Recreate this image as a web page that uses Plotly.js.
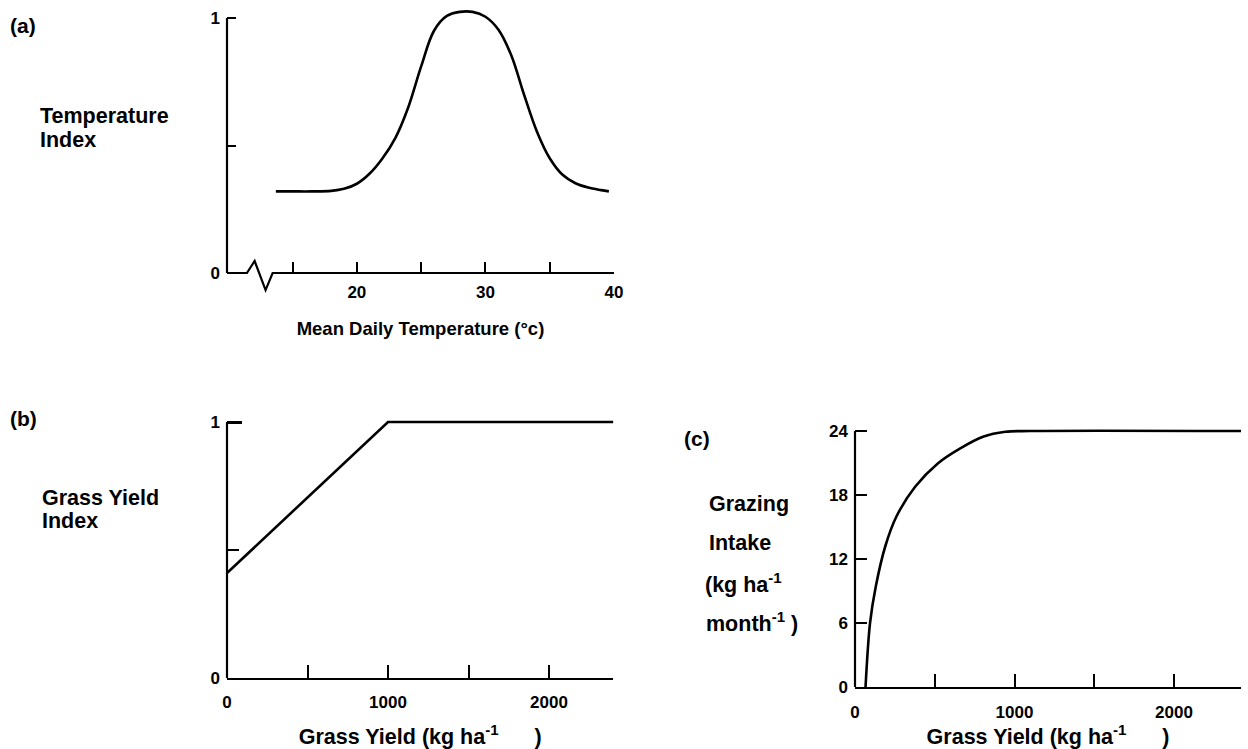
<!DOCTYPE html>
<html>
<head>
<meta charset="utf-8">
<script src="https://cdn.plot.ly/plotly-3.0.1.min.js"></script>
<style>
  html, body { margin: 0; padding: 0; background: #fff; }
  #chart { width: 1248px; height: 749px; }
</style>
</head>
<body>
<div id="chart"></div>
<script>
// ---------------- DATA ----------------
// (a) Temperature index vs mean daily temperature
const tempX = [13.7, 15, 16.5, 18, 19, 20, 21, 22, 23, 24, 25, 26, 27, 28, 29, 30, 31, 32, 33, 34, 35, 36, 37, 38, 39, 39.6];
const tempIndex = [0.32, 0.32, 0.32, 0.322, 0.33, 0.35, 0.39, 0.45, 0.53, 0.65, 0.81, 0.95, 1.008, 1.024, 1.024, 1.005, 0.955, 0.855, 0.70, 0.555, 0.45, 0.385, 0.352, 0.335, 0.325, 0.32];
const tempTickVals = [20, 30, 40];
const tempTickText = ['20', '30', '40'];
const tempMinorTicks = [15, 25, 35];
const tempIdxTickVals = [0, 1];
const tempIdxTickText = ['0', '1'];
const tempIdxMinorTicks = [0.5];

// (b) Grass yield index vs grass yield
const yieldX = [0, 1000, 2400];
const yieldIndex = [0.41, 1.0, 1.0];
const yieldTickVals = [0, 1000, 2000];
const yieldTickText = ['0', '1000', '2000'];
const yieldMinorTicks = [500, 1500];
const yieldIdxTickVals = [0, 1];
const yieldIdxTickText = ['0', '1'];
const yieldIdxMinorTicks = [0.5];

// (c) Grazing intake vs grass yield
const grazeX = [66, 94, 130, 189, 259, 377, 519, 660, 802, 943, 1100, 2420];
const grazeIntake = [0, 5.97, 9.4, 13.15, 15.96, 18.77, 20.96, 22.37, 23.46, 23.93, 24, 24];
const grazeTickVals = [0, 1000, 2000];
const grazeTickText = ['0', '1000', '2000'];
const grazeMinorTicks = [500, 1500];
const intakeTickVals = [0, 6, 12, 18, 24];
const intakeTickText = ['0', '6', '12', '18', '24'];

// ---------------- LAYOUT HELPERS ----------------
const W = 1248, H = 749;
const FONT = 'Liberation Sans, Arial, Helvetica, sans-serif';
const INK = '#000';

// plot boxes in pixels
const boxA = {l: 227, r: 614, t: 7.8, b: 273, xr: [9.9, 40], yr: [0, 1.04]};
const boxB = {l: 227, r: 613.4, t: 416.9, b: 678, xr: [0, 2400], yr: [0, 1.02]};
const boxC = {l: 855, r: 1241, t: 425.7, b: 687, xr: [0, 2420], yr: [0, 24.5]};

function dx(box) { return [box.l / W, box.r / W]; }
function dy(box) { return [1 - box.b / H, 1 - box.t / H]; }
function px(box, v) { const d = dx(box); return d[0] + (v - box.xr[0]) / (box.xr[1] - box.xr[0]) * (d[1] - d[0]); }
function py(box, v) { const d = dy(box); return d[0] + (v - box.yr[0]) / (box.yr[1] - box.yr[0]) * (d[1] - d[0]); }

function bold(size) { return {family: FONT, size: size, color: INK, weight: 'bold'}; }

function ann(text, xpix, ypix, size) {
  return {text: text, xref: 'paper', yref: 'paper', x: xpix / W, y: 1 - ypix / H,
          xanchor: 'left', yanchor: 'middle', showarrow: false, align: 'left',
          font: bold(size)};
}
function minor(vals, len) {
  return {tickmode: 'array', tickvals: vals, ticks: 'inside', ticklen: len, tickwidth: 2, tickcolor: INK, showgrid: false};
}

// ---------------- TRACES ----------------
const traces = [
  {x: tempX, y: tempIndex, xaxis: 'x', yaxis: 'y', type: 'scatter', mode: 'lines',
   line: {color: INK, width: 2.6, shape: 'spline', smoothing: 1}, hoverinfo: 'x+y', showlegend: false},
  {x: yieldX, y: yieldIndex, xaxis: 'x2', yaxis: 'y2', type: 'scatter', mode: 'lines',
   line: {color: INK, width: 2.6}, hoverinfo: 'x+y', showlegend: false},
  {x: grazeX, y: grazeIntake, xaxis: 'x3', yaxis: 'y3', type: 'scatter', mode: 'lines',
   line: {color: INK, width: 2.6, shape: 'spline', smoothing: 0.9}, hoverinfo: 'x+y', showlegend: false}
];

// ---------------- AXIS LINES (decoration) ----------------
function pathFrom(box, pts) {
  return pts.map((p, i) => (i ? 'L' : 'M') + px(box, p[0]) + ',' + py(box, p[1])).join(' ');
}
const lineStyle = {color: INK, width: 2.2};
const shapes = [
  {type: 'path', xref: 'paper', yref: 'paper', line: lineStyle,
   path: pathFrom(boxA, [[9.9, 0], [9.9, 1]])},
  {type: 'path', xref: 'paper', yref: 'paper', line: lineStyle,
   path: pathFrom(boxA, [[9.9, 0], [11.45, 0], [12.05, 0.047], [12.9, -0.067], [13.45, 0], [40, 0]])},
  {type: 'path', xref: 'paper', yref: 'paper', line: lineStyle,
   path: pathFrom(boxB, [[0, 0], [0, 1]])},
  {type: 'path', xref: 'paper', yref: 'paper', line: lineStyle,
   path: pathFrom(boxC, [[0, 0], [0, 24]])}
];

// ---------------- LAYOUT ----------------
const common = {showgrid: false, zeroline: false, fixedrange: true, ticks: 'inside',
                tickcolor: INK, tickwidth: 2, tickmode: 'array'};
const gapText = '\u00a0\u00a0\u00a0\u00a0\u00a0\u00a0';

const layout = {
  width: W, height: H,
  margin: {l: 0, r: 0, t: 0, b: 0},
  paper_bgcolor: '#fff', plot_bgcolor: 'rgba(0,0,0,0)',
  showlegend: false,
  xaxis: Object.assign({}, common, {
    domain: dx(boxA), range: boxA.xr, anchor: 'y', showline: false,
    tickvals: tempTickVals, ticktext: tempTickText, ticklen: 11,
    minor: minor(tempMinorTicks, 11),
    tickfont: bold(17), ticklabelstandoff: 7,
    title: {text: 'Mean Daily Temperature (°c)', font: bold(18.5), standoff: 21}
  }),
  yaxis: Object.assign({}, common, {
    domain: dy(boxA), range: boxA.yr, anchor: 'x', showline: false,
    tickvals: tempIdxTickVals, ticktext: tempIdxTickText, ticklen: 9,
    minor: minor(tempIdxMinorTicks, 9),
    tickfont: bold(17), ticklabelstandoff: 6
  }),
  xaxis2: Object.assign({}, common, {
    domain: dx(boxB), range: boxB.xr, anchor: 'y2', showline: true, linecolor: INK, linewidth: 2.2,
    tickvals: yieldTickVals, ticktext: yieldTickText, ticklen: 13,
    minor: minor(yieldMinorTicks, 13),
    tickfont: bold(17), ticklabelstandoff: 7,
    title: {text: 'Grass Yield (kg ha<sup>-1</sup>' + gapText + ')', font: bold(21.5), standoff: 19}
  }),
  yaxis2: Object.assign({}, common, {
    domain: dy(boxB), range: boxB.yr, anchor: 'x2', showline: false,
    tickvals: yieldIdxTickVals, ticktext: yieldIdxTickText, ticklen: 15, tickwidth: 3,
    minor: {tickmode: 'array', tickvals: yieldIdxMinorTicks, ticks: 'inside', ticklen: 12, tickwidth: 2.5, tickcolor: INK, showgrid: false},
    tickfont: bold(17), ticklabelstandoff: 6
  }),
  xaxis3: Object.assign({}, common, {
    domain: dx(boxC), range: boxC.xr, anchor: 'y3', showline: true, linecolor: INK, linewidth: 2.2,
    tickvals: grazeTickVals, ticktext: grazeTickText, ticklen: 13,
    minor: minor(grazeMinorTicks, 13),
    tickfont: bold(17), ticklabelstandoff: 8,
    title: {text: 'Grass Yield (kg ha<sup>-1</sup>' + gapText + ')', font: bold(21.5), standoff: 13}
  }),
  yaxis3: Object.assign({}, common, {
    domain: dy(boxC), range: boxC.yr, anchor: 'x3', showline: false,
    tickvals: intakeTickVals, ticktext: intakeTickText, ticklen: 12,
    tickfont: bold(17), ticklabelstandoff: 6
  }),
  shapes: shapes,
  annotations: [
    ann('(a)', 8, 26, 21),
    ann('Temperature', 38, 116, 21.5),
    ann('Index', 38, 140, 21.5),
    ann('(b)', 8, 418, 21),
    ann('Grass Yield', 40, 498, 21.5),
    ann('Index', 40, 521, 21.5),
    ann('(c)', 682, 438, 21),
    ann('Grazing', 707, 504, 21.5),
    ann('Intake', 707, 543, 21.5),
    ann('(kg ha<sup>-1</sup>', 703, 583, 21.5),
    ann('month<sup>-1</sup> )', 704, 622, 21.5)
  ]
};

Plotly.newPlot('chart', traces, layout, {staticPlot: true, displayModeBar: false});
</script>
</body>
</html>
